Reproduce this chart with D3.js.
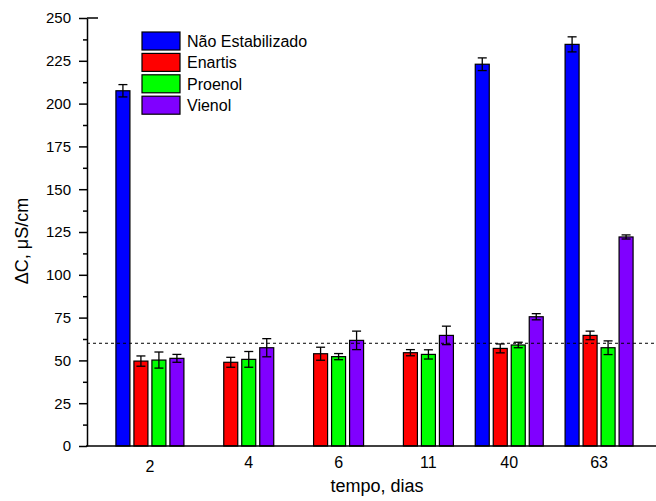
<!DOCTYPE html>
<html>
<head>
<meta charset="utf-8">
<script src="https://cdn.jsdelivr.net/npm/d3@7"></script>
<style>
  body { margin: 0; background: #fff; }
  text { font-family: "Liberation Sans", Arial, sans-serif; fill: #000; }
</style>
</head>
<body>
<svg id="chart" width="656" height="501"></svg>
<script>
// tempo (dias) on x, series as grouped bars
const days = ["2", "4", "6", "11", "40", "63"];
const series = ["Não Estabilizado", "Enartis", "Proenol", "Vienol"];
const colors = ["#0000ff", "#ff0000", "#00ff00", "#8000ff"];

const naoEstabilizado    = [207.5, null, null, null, 223.0, 234.6];
const naoEstabilizadoErr = [3.6, null, null, null, 3.7, 4.4];
const enartis    = [49.6, 48.9, 53.9, 54.5, 57.0, 64.6];
const enartisErr = [3.0, 2.9, 3.8, 1.8, 2.6, 2.5];
const proenol    = [50.2, 50.6, 52.2, 53.5, 59.0, 57.4];
const proenolErr = [4.7, 4.6, 1.8, 2.7, 1.6, 4.0];
const vienol     = [51.2, 57.4, 61.7, 64.6, 75.5, 122.1];
const vienolErr  = [2.3, 5.3, 5.4, 5.4, 1.8, 1.2];

const yTicks = d3.range(0, 251, 25);
const yMinor = d3.range(12.5, 250, 25);
const limite = 60; // dashed reference line

const values = [naoEstabilizado, enartis, proenol, vienol];
const errors = [naoEstabilizadoErr, enartisErr, proenolErr, vienolErr];

// flatten into rows for drawing
const rows = [];
days.forEach((d, i) => {
    series.forEach((s, j) => {
        if (values[j][i] != null) {
            rows.push({day: d, serie: s, color: colors[j], v: values[j][i], e: errors[j][i]});
        }
    });
});

const svg = d3.select("#chart");
const axisX = 87, plotRight = 656, plotTop = 18, plotBottom = 446;

const y = d3.scaleLinear().domain([0, 250]).range([plotBottom, plotTop]);
const x0 = d3.scaleBand().domain(days).range([105, 644]).padding(0);
const x1 = d3.scaleBand().domain(series).range([0, x0.bandwidth()])
    .paddingInner(0.222).paddingOuter(0.607);

// bars
svg.append("g")
    .selectAll("rect")
    .data(rows)
    .join("rect")
    .attr("x", d => x0(d.day) + x1(d.serie))
    .attr("y", d => y(d.v))
    .attr("width", x1.bandwidth())
    .attr("height", d => y(0) - y(d.v))
    .attr("fill", d => d.color)
    .attr("stroke", "#000")
    .attr("stroke-width", 1.2);

// error bars
const eb = svg.append("g").attr("stroke", "#000").attr("stroke-width", 1.3);
rows.forEach(d => {
    const cx = x0(d.day) + x1(d.serie) + x1.bandwidth() / 2;
    eb.append("line").attr("x1", cx).attr("x2", cx)
        .attr("y1", y(d.v + d.e)).attr("y2", y(d.v - d.e));
    [d.v + d.e, d.v - d.e].forEach(val => {
        eb.append("line").attr("x1", cx - 4.5).attr("x2", cx + 4.5)
            .attr("y1", y(val)).attr("y2", y(val));
    });
});

// dashed limit line
svg.append("line")
    .attr("x1", axisX).attr("x2", plotRight)
    .attr("y1", y(limite)).attr("y2", y(limite))
    .attr("stroke", "#000").attr("stroke-width", 1)
    .attr("stroke-dasharray", "3,3");

// y axis
const yAxis = svg.append("g")
    .attr("transform", "translate(" + axisX + ",0)")
    .call(d3.axisLeft(y).tickValues(yTicks).tickSize(8).tickSizeOuter(0).tickPadding(8));
yAxis.selectAll("text").style("font-size", "15px").attr("font-family", null);
yAxis.selectAll("line, path").attr("stroke", "#000").attr("stroke-width", 1.5);

svg.append("g")
    .attr("transform", "translate(" + axisX + ",0)")
    .call(d3.axisLeft(y).tickValues(yMinor).tickSize(4).tickFormat(""))
    .call(g => g.select(".domain").remove())
    .selectAll("line").attr("stroke", "#000").attr("stroke-width", 1.5);

// short stub at the top of the y axis
svg.append("line")
    .attr("x1", axisX).attr("x2", axisX + 11)
    .attr("y1", y(250)).attr("y2", y(250))
    .attr("stroke", "#000").attr("stroke-width", 1.5);

// x axis line (no ticks)
svg.append("line")
    .attr("x1", axisX - 1).attr("x2", plotRight)
    .attr("y1", plotBottom).attr("y2", plotBottom)
    .attr("stroke", "#000").attr("stroke-width", 1.5);

// x labels centred under the bars present in each group
svg.append("g")
    .selectAll("text")
    .data(days)
    .join("text")
    .attr("x", d => d3.mean(rows.filter(r => r.day === d),
        r => x0(r.day) + x1(r.serie) + x1.bandwidth() / 2))
    .attr("y", (d, i) => i === 0 ? 472 : 468)
    .attr("text-anchor", "middle")
    .style("font-size", "16px")
    .text(d => d);

// axis titles
svg.append("text")
    .attr("x", 377).attr("y", 492)
    .attr("text-anchor", "middle")
    .style("font-size", "18px")
    .text("tempo, dias");

svg.append("text")
    .attr("transform", "translate(28,241) rotate(-90)")
    .attr("text-anchor", "middle")
    .style("font-size", "18px")
    .text("ΔC, μS/cm");

// legend
const legend = svg.append("g").attr("transform", "translate(142,32)");
const item = legend.selectAll("g")
    .data(series)
    .join("g")
    .attr("transform", (d, i) => "translate(0," + i * 21.4 + ")");
item.append("rect")
    .attr("width", 38).attr("height", 18)
    .attr("fill", (d, i) => colors[i])
    .attr("stroke", "#000").attr("stroke-width", 1.2);
item.append("text")
    .attr("x", 45).attr("y", 15)
    .style("font-size", "16px")
    .text(d => d);
</script>
</body>
</html>
